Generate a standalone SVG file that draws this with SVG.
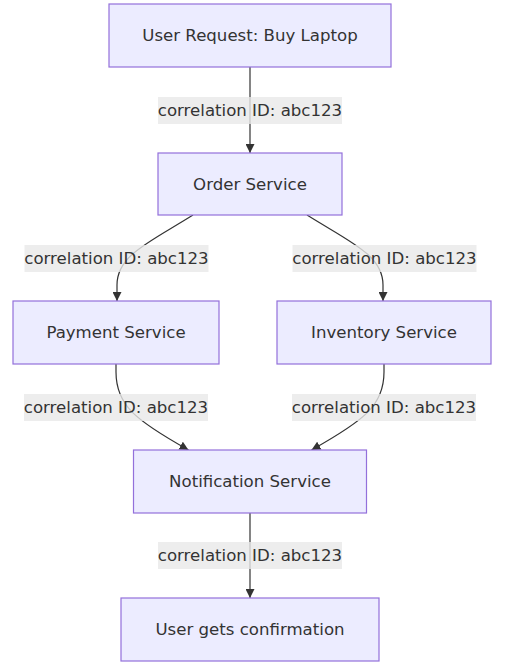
<svg xmlns="http://www.w3.org/2000/svg" width="528" height="667" viewBox="0 0 528 667">
<style>
.node rect{fill:#ECECFF;stroke:#9370DB;stroke-width:1.2}
text{font-family:"DejaVu Sans","Liberation Sans",sans-serif;font-size:16.6px;fill:#333333;text-anchor:middle}
.edge{fill:none;stroke:#333333;stroke-width:1.2}
.lbl rect{fill:#e8e8e8;fill-opacity:0.8}
</style>
<defs>
<marker id="arrow" viewBox="0 0 10 10" refX="10" refY="5" markerWidth="9" markerHeight="9" markerUnits="userSpaceOnUse" orient="auto">
<path d="M0,0 L10,5 L0,10 z" fill="#333333"/>
</marker>
</defs>
<rect width="528" height="667" fill="#ffffff"/>
<g id="connectors">
<path class="edge" d="M250,67 L250,153" marker-end="url(#arrow)"/>
<path class="edge" d="M193,215 C150,242 117,255 117,285 L117,301" marker-end="url(#arrow)"/>
<path class="edge" d="M307,215 C350,242 383,255 383,285 L383,301" marker-end="url(#arrow)"/>
<path class="edge" d="M116,364 L116,372 C116,405 135,420 188.5,450" marker-end="url(#arrow)"/>
<path class="edge" d="M384,364 L384,372 C384,405 365,420 311.5,450" marker-end="url(#arrow)"/>
<path class="edge" d="M250,513 L250,598" marker-end="url(#arrow)"/>
<g class="lbl"><rect x="158" y="97" width="184" height="27"/><text x="250" y="116">correlation ID: abc123</text></g>
<g class="lbl"><rect x="24.5" y="245" width="184" height="27"/><text x="116.5" y="264">correlation ID: abc123</text></g>
<g class="lbl"><rect x="292.5" y="245" width="184" height="27"/><text x="384.5" y="264">correlation ID: abc123</text></g>
<g class="lbl"><rect x="24" y="394" width="184" height="27"/><text x="116" y="413">correlation ID: abc123</text></g>
<g class="lbl"><rect x="292" y="394" width="184" height="27"/><text x="384" y="413">correlation ID: abc123</text></g>
<g class="lbl"><rect x="158" y="542" width="184" height="27"/><text x="250" y="561">correlation ID: abc123</text></g>
</g>
<g id="userRequest" class="node"><rect x="109" y="4" width="282" height="63"/><text x="250" y="41">User Request: Buy Laptop</text></g>
<g id="orderService" class="node"><rect x="158" y="153" width="184" height="62"/><text x="250" y="189.5">Order Service</text></g>
<g id="paymentService" class="node"><rect x="13" y="301" width="206" height="63"/><text x="116" y="338">Payment Service</text></g>
<g id="inventoryService" class="node"><rect x="277" y="301" width="214" height="63"/><text x="384" y="338">Inventory Service</text></g>
<g id="notificationService" class="node"><rect x="133.5" y="450" width="233" height="63"/><text x="250" y="487">Notification Service</text></g>
<g id="userConfirmation" class="node"><rect x="121" y="598" width="258" height="63"/><text x="250" y="635">User gets confirmation</text></g>
</svg>
